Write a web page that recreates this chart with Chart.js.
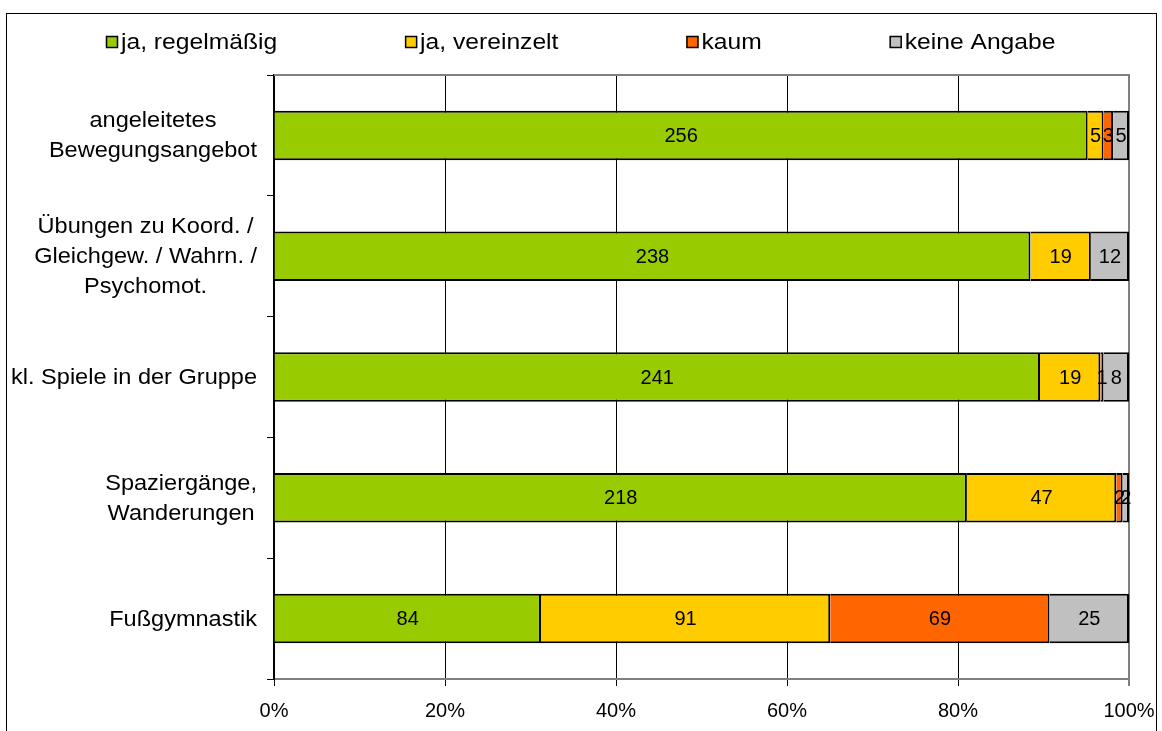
<!DOCTYPE html>
<html lang="de">
<head>
<meta charset="utf-8">
<title>Bewegungsangebote</title>
<script src="https://cdn.jsdelivr.net/npm/chart.js@4.4.1/dist/chart.umd.min.js"></script>
<style>
  html, body { margin: 0; padding: 0; background: #fff; }
  #wrap { position: relative; width: 1162px; height: 731px; }
</style>
</head>
<body>
<div id="wrap"><canvas id="chart"></canvas></div>
<script>
// Categories, top to bottom (each label split into its lines)
const categories = [
  ['angeleitetes', 'Bewegungsangebot'],
  ['Übungen zu Koord. /', 'Gleichgew. / Wahrn. /', 'Psychomot.'],
  ['kl. Spiele in der Gruppe'],
  ['Spaziergänge,', 'Wanderungen'],
  ['Fußgymnastik']
];

// Number of answers per category
const regelmaessig = [256, 238, 241, 218, 84];
const vereinzelt   = [5, 19, 19, 47, 91];
const kaum         = [3, 0, 1, 2, 69];
const keineAngabe  = [5, 12, 8, 2, 25];

const seriesNames  = ['ja, regelmäßig', 'ja, vereinzelt', 'kaum', 'keine Angabe'];
const seriesColors = ['#99CC00', '#FFCC00', '#FF6600', '#C0C0C0'];

// Percent ticks on the value axis
const xTicks = [0, 20, 40, 60, 80, 100];

const FONT = 'Arial, "Liberation Sans", sans-serif';
// font size and horizontal stretch per kind of text
const TEXT = {
  legend:   { size: 22, sx: 1.12 },
  category: { size: 22, sx: 1.07 },
  value:    { size: 20, sx: 1 },
  tick:     { size: 20, sx: 1 }
};

const counts = [regelmaessig, vereinzelt, kaum, keineAngabe];
const totals = categories.map((_, j) => counts.reduce((sum, arr) => sum + arr[j], 0));

// Convert counts into share of the row (100% stacked)
function toShare(arr) {
  return arr.map((v, j) => v / totals[j] * 100);
}

function setFont(c, style) {
  c.font = style.size + 'px ' + FONT;
}

function textWidth(c, text, style) {
  setFont(c, style);
  return c.measureText(text).width * style.sx;
}

// Draw text, optionally stretched horizontally around its anchor
function drawText(c, text, x, y, align, style) {
  c.save();
  setFont(c, style);
  c.translate(x, y);
  c.scale(style.sx, 1);
  c.textAlign = align;
  c.textBaseline = 'middle';
  c.fillStyle = '#000';
  c.fillText(text, 0, 0);
  c.restore();
}

// White background, outer frame and the grey top edge of the plot area
const framePlugin = {
  id: 'frame',
  beforeDraw(chart) {
    const c = chart.ctx;
    c.save();
    c.fillStyle = '#fff';
    c.fillRect(0, 0, chart.width, chart.height);
    c.strokeStyle = '#000';
    c.lineWidth = 1;
    c.strokeRect(6.5, 13.5, chart.width - 12, chart.height + 10);
    c.restore();
  },
  afterDraw(chart) {
    const a = chart.chartArea;
    const c = chart.ctx;
    c.save();
    c.strokeStyle = '#808080';
    c.lineWidth = 2;
    c.beginPath();
    c.moveTo(a.left, a.top);
    c.lineTo(a.right + 1, a.top);
    c.stroke();
    c.restore();
  }
};

// Legend row across the top
const legendPlugin = {
  id: 'topLegend',
  afterDraw(chart) {
    const c = chart.ctx;
    const box = 12, gapText = 3, gapItem = 128, y = 42;
    const st = TEXT.legend;
    const widths = chart.data.datasets.map(ds => box + gapText + textWidth(c, ds.label, st));
    const total = widths.reduce((s, w) => s + w, 0) + gapItem * (widths.length - 1);
    let x = Math.round(chart.width / 2 - total / 2);
    chart.data.datasets.forEach((ds, i) => {
      c.save();
      c.fillStyle = ds.backgroundColor;
      c.fillRect(x, y - 6, box, box);
      c.strokeStyle = '#000';
      c.lineWidth = 1.5;
      c.strokeRect(x + 0.5, y - 5.5, box - 1, box - 1);
      c.restore();
      drawText(c, ds.label, x + box + gapText, y + 1, 'left', st);
      x += widths[i] + gapItem;
    });
  }
};

// Count labels in the middle of each segment
const valueLabels = {
  id: 'valueLabels',
  afterDatasetsDraw(chart) {
    const c = chart.ctx;
    chart.data.datasets.forEach((ds, i) => {
      chart.getDatasetMeta(i).data.forEach((bar, j) => {
        const v = ds.counts[j];
        if (!v) return;
        const p = bar.getCenterPoint();
        drawText(c, String(v), p.x, p.y + 1, 'center', TEXT.value);
      });
    });
  }
};

// Category labels: block right-aligned to the axis, lines centred inside it;
// percent labels under the value axis ticks
const axisLabels = {
  id: 'axisLabels',
  afterDraw(chart) {
    const c = chart.ctx;
    const yScale = chart.scales.y;
    const xScale = chart.scales.x;
    const right = chart.chartArea.left - 17;
    const lineH = 30;
    chart.data.labels.forEach((lines, j) => {
      const w = Math.max(...lines.map(l => textWidth(c, l, TEXT.category)));
      const cx = right - w / 2;
      const cy = yScale.getPixelForValue(j);
      const top = cy - (lines.length - 1) * lineH / 2;
      lines.forEach((l, k) => drawText(c, l, cx, top + k * lineH + 1, 'center', TEXT.category));
    });
    xScale.ticks.forEach(t => {
      drawText(c, t.value + '%', xScale.getPixelForValue(t.value), chart.chartArea.bottom + 32, 'center', TEXT.tick);
    });
  }
};

new Chart(document.getElementById('chart'), {
  type: 'bar',
  data: {
    labels: categories,
    datasets: counts.map((arr, i) => ({
      label: seriesNames[i],
      data: toShare(arr),
      counts: arr,
      backgroundColor: seriesColors[i],
      borderColor: '#000',
      borderWidth: 2,
      barPercentage: 0.41,
      categoryPercentage: 1
    }))
  },
  options: {
    indexAxis: 'y',
    responsive: true,
    maintainAspectRatio: false,
    animation: false,
    layout: { padding: { top: 75, right: 33, left: 0, bottom: 0 } },
    plugins: {
      legend: { display: false },
      tooltip: { enabled: false }
    },
    scales: {
      x: {
        stacked: true,
        min: 0,
        max: 100,
        afterBuildTicks: scale => { scale.ticks = xTicks.map(v => ({ value: v })); },
        afterFit: scale => { scale.height = 52; },
        ticks: { display: false },
        border: { color: '#808080', width: 2 },
        grid: {
          color: ctx => (ctx.tick && ctx.tick.value === 100 ? '#808080' : '#000'),
          lineWidth: ctx => (ctx.tick && ctx.tick.value === 100 ? 2 : 1),
          tickColor: '#000',
          tickWidth: 1,
          tickLength: 7
        }
      },
      y: {
        stacked: true,
        afterFit: scale => { scale.width = 274; },
        ticks: { display: false },
        border: { color: '#000', width: 2 },
        grid: {
          drawOnChartArea: false,
          color: '#000',
          tickLength: 7
        }
      }
    }
  },
  plugins: [framePlugin, legendPlugin, valueLabels, axisLabels]
});
</script>
</body>
</html>
